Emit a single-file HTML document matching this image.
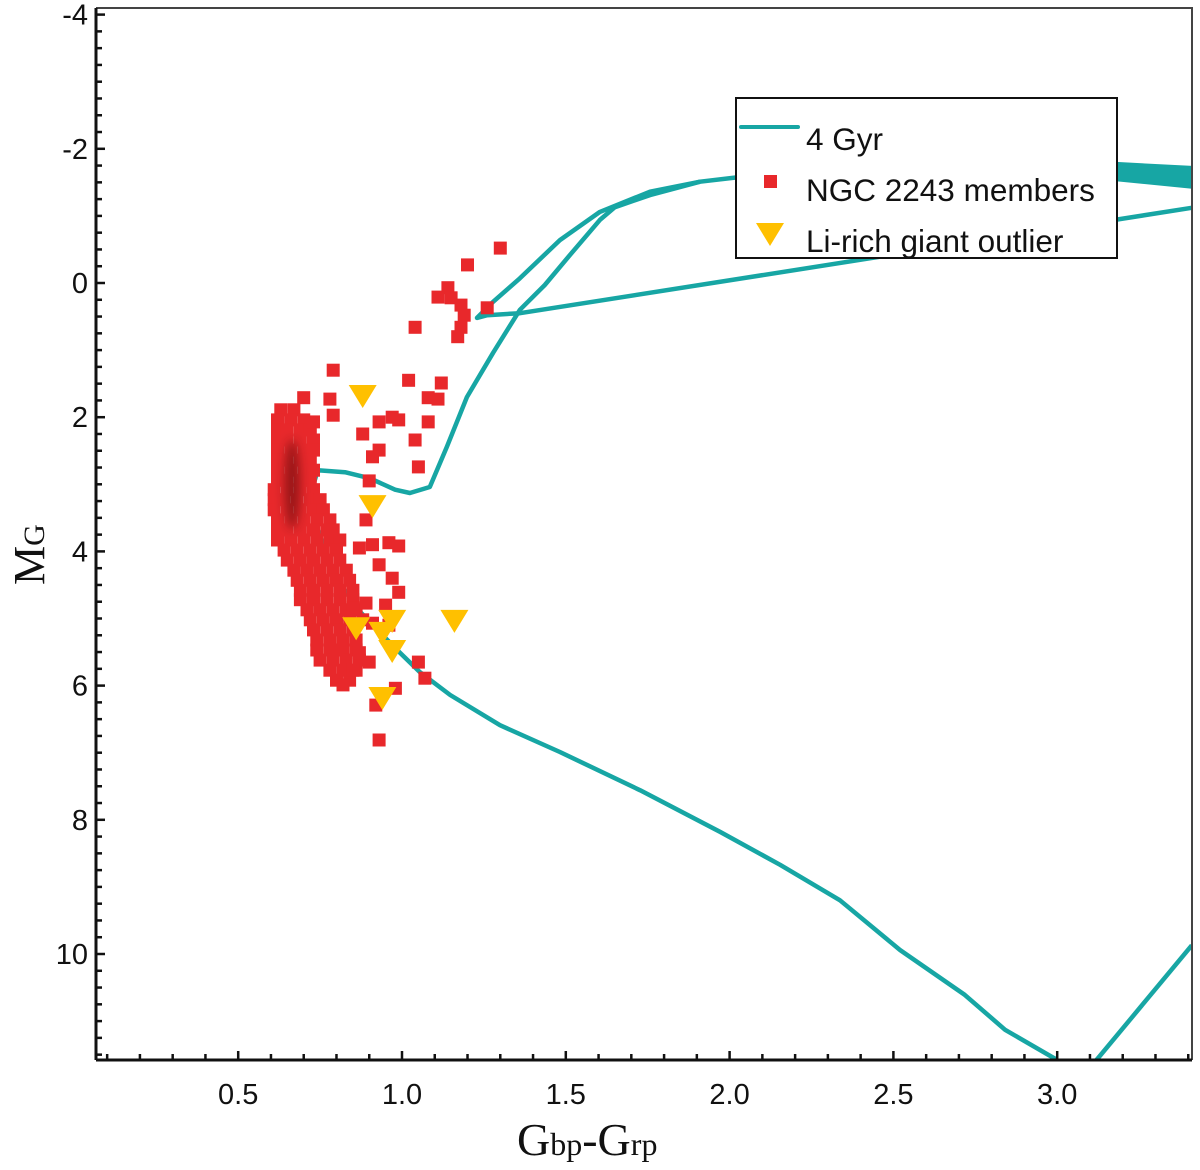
<!DOCTYPE html>
<html><head><meta charset="utf-8">
<style>
html,body{margin:0;padding:0;background:#fff;}
svg{display:block;font-family:"Liberation Sans",sans-serif;}
</style></head>
<body>
<svg id="chart" width="1200" height="1170" viewBox="0 0 1200 1170" xmlns="http://www.w3.org/2000/svg">
<defs><filter id="blurF" x="-1" y="-1" width="3" height="3"><feGaussianBlur stdDeviation="5"/></filter></defs>
<g id="plot"></g>
<text transform="translate(44,585) rotate(-90)" font-family="Liberation Serif,serif" font-size="44" fill="#111">M<tspan font-size="30">G</tspan></text>
<text x="517" y="1155" font-family="Liberation Serif,serif" font-size="46" fill="#111">G<tspan font-size="32">bp</tspan>-G<tspan font-size="32">rp</tspan></text>
<g>
<rect x="736" y="98" width="381" height="160" fill="#fff" stroke="#111" stroke-width="2"/>
<line x1="741" y1="127" x2="798" y2="127" stroke="#17a6a4" stroke-width="4" stroke-linecap="round"/>
<text x="806" y="150" font-size="31.5" fill="#111">4 Gyr</text>
<rect x="764" y="175" width="13" height="13" fill="#e8282b"/>
<text x="806" y="201" font-size="31.5" fill="#111">NGC 2243 members</text>
<polygon points="756,223 784,223 770,246" fill="#ffc000"/>
<text x="806" y="252" font-size="31.5" fill="#111">Li-rich giant outlier</text>
</g>
</svg>
<script>
const xTicks=[0.5,1.0,1.5,2.0,2.5,3.0];
const xTickLabels=["0.5","1.0","1.5","2.0","2.5","3.0"];
const yTicks=[-4,-2,0,2,4,6,8,10];
const yTickLabels=["-4","-2","0","2","4","6","8","10"];
const isoMainX=[3.00,2.841,2.718,2.520,2.337,2.154,1.971,1.727,1.482,1.299,1.147,1.055,0.979,0.872,0.795,0.743,0.725,0.743,0.826,0.902,0.979,1.024,1.085,1.137,1.198,1.278,1.360,1.436,1.513,1.604,1.650,1.757,1.910,2.032,2.20];
const isoMainY=[11.58,11.13,10.61,9.94,9.20,8.67,8.18,7.56,6.99,6.59,6.14,5.80,5.44,4.90,4.38,3.68,3.08,2.79,2.82,2.91,3.08,3.13,3.04,2.44,1.70,1.04,0.40,0.03,-0.42,-0.94,-1.13,-1.31,-1.51,-1.58,-1.63];
const isoBranchX=[1.910,1.757,1.604,1.482,1.360,1.278,1.229,1.26,1.360,3.411];
const isoBranchY=[-1.51,-1.36,-1.06,-0.64,-0.07,0.28,0.52,0.48,0.45,-1.12];
const isoBandX=[2.032,2.60,3.18,3.411,3.411,3.18,2.60,2.032];
const isoBandY=[-1.60,-1.72,-1.79,-1.73,-1.42,-1.53,-1.56,-1.56];
const isoLowX=[3.12,3.411];
const isoLowY=[11.58,9.87];
const memberPts=[
[0.63,1.89],[0.67,1.89],
[0.62,2.04],[0.66,2.04],[0.70,2.04],
[0.62,2.19],[0.65,2.19],[0.69,2.19],[0.72,2.19],
[0.62,2.34],[0.65,2.34],[0.69,2.34],[0.73,2.34],
[0.62,2.49],[0.66,2.49],[0.70,2.49],[0.73,2.49],
[0.62,2.64],[0.65,2.64],[0.69,2.64],[0.72,2.64],
[0.62,2.79],[0.66,2.79],[0.70,2.79],[0.73,2.79],
[0.62,2.94],[0.65,2.94],[0.69,2.94],[0.72,2.94],
[0.61,3.08],[0.65,3.08],[0.69,3.08],[0.73,3.08],
[0.61,3.23],[0.64,3.23],[0.68,3.23],[0.72,3.23],[0.75,3.23],
[0.61,3.38],[0.65,3.38],[0.69,3.38],[0.73,3.38],[0.76,3.38],
[0.62,3.53],[0.66,3.53],[0.70,3.53],[0.74,3.53],[0.78,3.53],
[0.62,3.68],[0.65,3.68],[0.69,3.68],[0.73,3.68],[0.77,3.68],[0.79,3.68],
[0.62,3.83],[0.66,3.83],[0.70,3.83],[0.74,3.83],[0.78,3.83],[0.81,3.83],
[0.64,3.98],[0.68,3.98],[0.72,3.98],[0.76,3.98],[0.80,3.98],
[0.65,4.13],[0.69,4.13],[0.73,4.13],[0.77,4.13],[0.81,4.13],
[0.67,4.28],[0.71,4.28],[0.75,4.28],[0.79,4.28],[0.83,4.28],
[0.68,4.43],[0.72,4.43],[0.76,4.43],[0.80,4.43],[0.84,4.43],
[0.69,4.58],[0.73,4.58],[0.77,4.58],[0.81,4.58],[0.85,4.58],
[0.69,4.72],[0.73,4.72],[0.77,4.72],[0.81,4.72],[0.85,4.72],
[0.71,4.87],[0.75,4.87],[0.79,4.87],[0.83,4.87],[0.86,4.87],
[0.72,5.02],[0.76,5.02],[0.80,5.02],[0.84,5.02],[0.88,5.02],
[0.73,5.17],[0.77,5.17],[0.81,5.17],[0.85,5.17],
[0.74,5.32],[0.78,5.32],[0.82,5.32],[0.86,5.32],
[0.74,5.47],[0.78,5.47],[0.82,5.47],[0.86,5.47],
[0.75,5.62],[0.79,5.62],[0.83,5.62],[0.87,5.62],
[0.78,5.77],[0.82,5.77],[0.86,5.77],
[0.80,5.92],[0.84,5.92],
[1.30,-0.52],[1.20,-0.27],[1.14,0.07],[1.11,0.21],[1.15,0.22],[1.18,0.33],[1.19,0.48],[1.18,0.66],[1.17,0.80],[1.26,0.37],
[1.04,0.66],[0.79,1.30],[1.02,1.45],[1.12,1.49],[0.70,1.71],[0.78,1.73],[1.08,1.71],[1.11,1.73],[0.79,1.97],[0.73,2.07],
[0.97,2.00],[0.99,2.04],[0.93,2.07],[1.08,2.07],[0.88,2.25],[1.04,2.34],[0.93,2.49],[0.91,2.59],[1.05,2.74],[0.90,2.95],
[0.89,3.53],[0.87,3.95],[0.91,3.90],[0.96,3.87],[0.99,3.92],[0.93,4.20],[0.97,4.40],[0.99,4.61],[0.95,4.80],[0.89,4.77],
[0.85,4.84],[0.91,5.07],[0.87,5.51],[0.90,5.65],[0.85,5.77],[0.80,5.47],[1.05,5.65],[1.07,5.89],[0.82,5.99],[0.98,6.04],
[0.92,6.29],[0.93,6.81],[0.96,5.10]
];
const outlierX=[0.88,0.91,0.86,0.97,0.94,0.97,1.16,0.94];
const outlierY=[1.67,3.31,5.13,5.02,5.20,5.47,5.02,6.17];

const X0=96,X1=1192,Y0=8,Y1=1060;
const xMin=(X0-74.4)/327.6, xMax=(X1-74.4)/327.6;
const yMin=(Y0-283)/67.1, yMax=(Y1-283)/67.1;
function sx(v){return X0+(v-xMin)/(xMax-xMin)*(X1-X0);}
function sy(v){return Y0+(v-yMin)/(yMax-yMin)*(Y1-Y0);}
const NS="http://www.w3.org/2000/svg";
const plot=document.getElementById('plot');
function mk(tag,attrs,parent){const e=document.createElementNS(NS,tag);for(const k in attrs)e.setAttribute(k,attrs[k]);(parent||plot).appendChild(e);return e;}

const clip=mk('clipPath',{id:'clipA'});
mk('rect',{x:X0,y:Y0,width:X1-X0,height:Y1-Y0},clip);
const g=mk('g',{'clip-path':'url(#clipA)'});



function pathFrom(xs,ys){return xs.map((v,i)=>(i?'L':'M')+sx(v).toFixed(1)+','+sy(ys[i]).toFixed(1)).join(' ');}
const teal="#17a6a4";
let band=mk('path',{d:pathFrom(isoBandX,isoBandY)+' Z',fill:teal,stroke:teal,'stroke-width':2},g);


let p1=mk('path',{d:pathFrom(isoMainX,isoMainY),fill:'none',stroke:teal,'stroke-width':4.5,'stroke-linejoin':'round'},g);


let p2=mk('path',{d:pathFrom(isoBranchX,isoBranchY),fill:'none',stroke:teal,'stroke-width':4.5,'stroke-linejoin':'round'},g);


let p3=mk('path',{d:pathFrom(isoLowX,isoLowY),fill:'none',stroke:teal,'stroke-width':4.5},g);



memberPts.forEach(p=>{
  const r=mk('rect',{x:(sx(p[0])-6.5).toFixed(1),y:(sy(p[1])-6.5).toFixed(1),width:13,height:13,fill:'#e8282b'},g);
  
  
});
const core=mk('ellipse',{cx:sx(0.665),cy:sy(3.0),rx:8,ry:45,fill:'rgba(60,0,0,0.45)',filter:'url(#blurF)'},g);


outlierX.forEach((v,i)=>{
  const cx=sx(v),cy=sy(outlierY[i]);
  const t=mk('polygon',{points:`${cx-14},${cy-10} ${cx+14},${cy-10} ${cx},${cy+13}`,fill:'#ffc000'},g);
  
  
});

let fr=mk('path',{d:`M${X0},${Y0} H${X1} V${Y1}`,fill:'none',stroke:'#444','stroke-width':2});


let ax=mk('line',{x1:X0,y1:Y1,x2:X1,y2:Y1,stroke:'#111','stroke-width':3});


let ay=mk('line',{x1:X0,y1:Y0,x2:X0,y2:Y1,stroke:'#111','stroke-width':3});


for(let k=1;k<=34;k++){const v=k/10;const px=sx(v);if(px<X0||px>X1)continue;
  const major=xTicks.some(t=>Math.abs(t-v)<1e-6);
  const t=mk('line',{x1:px,y1:Y1,x2:px,y2:Y1-(major?9:6),stroke:'#111','stroke-width':2.5});
  
  }
for(let k=-16;k<=46;k++){const v=k/4;const py=sy(v);if(py<Y0||py>Y1)continue;
  const major=yTicks.includes(v);
  const t=mk('line',{x1:X0,y1:py,x2:X0+(major?9:6),y2:py,stroke:'#111','stroke-width':2.5});
  
  }
xTicks.forEach((v,i)=>{const t=mk('text',{x:sx(v),y:1104,'text-anchor':'middle','font-size':29,fill:'#111'});t.textContent=xTickLabels[i];
  
  });
yTicks.forEach((v,i)=>{const t=mk('text',{x:88,y:sy(v)+10,'text-anchor':'end','font-size':29,fill:'#111'});t.textContent=yTickLabels[i];
  
  });
</script>
</body></html>
